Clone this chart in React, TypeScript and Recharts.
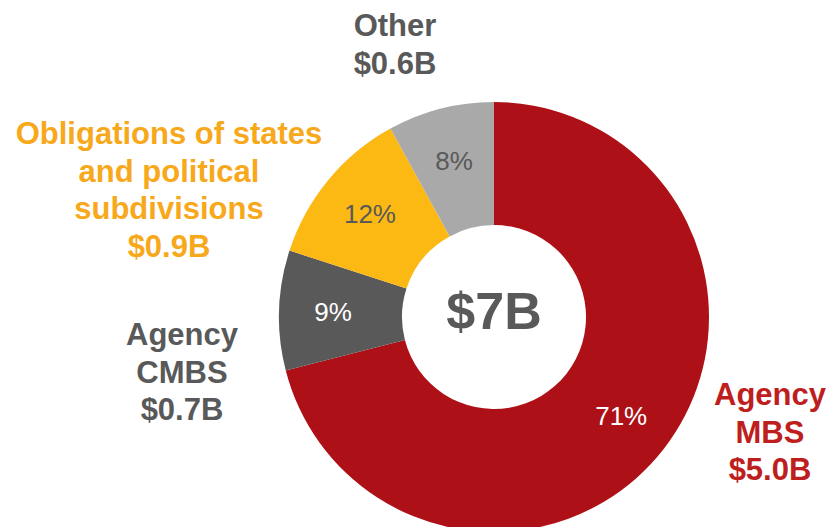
import { Pie, PieChart, Cell } from "recharts"

const categories = ["Agency MBS", "Agency CMBS", "Obligations of states and political subdivisions", "Other"]
const shares = [71, 9, 12, 8]
const amounts = ["$5.0B", "$0.7B", "$0.9B", "$0.6B"]
const nameLines = [["Agency", "MBS"], ["Agency", "CMBS"], ["Obligations of states", "and political", "subdivisions"], ["Other"]]
const total = "$7B"

const sliceColors = ["#AD1016", "#595959", "#FDB913", "#A9A9A9"]
const pctColors = ["#FFFFFF", "#FFFFFF", "#595959", "#595959"]
const nameColors = ["#BE1E1E", "#595959", "#F7A81B", "#595959"]
// where the outside captions sit (centre x, first baseline y)
const captionPos = [
  { x: 770, y: 405 },
  { x: 182, y: 345 },
  { x: 169, y: 144 },
  { x: 395, y: 36 },
]

const data = categories.map((name, i) => ({ name, value: shares[i] }))

const FONT = "'Liberation Sans', Arial, sans-serif"
const RAD = Math.PI / 180

function renderLabel(props: any) {
  const { cx, cy, midAngle, index } = props
  const r = 161
  const x = cx + r * Math.cos(-midAngle * RAD)
  const y = cy + r * Math.sin(-midAngle * RAD)
  const lines = [...nameLines[index], amounts[index]]
  const pos = captionPos[index]
  return (
    <g>
      <text x={x} y={y} textAnchor="middle" dominantBaseline="central" fill={pctColors[index]} fontSize={26} fontFamily={FONT}>
        {shares[index]}%
      </text>
      <text x={pos.x} y={pos.y} textAnchor="middle" fill={nameColors[index]} fontSize={31} fontWeight="bold" fontFamily={FONT}>
        {lines.map((l, k) => (
          <tspan key={k} x={pos.x} y={pos.y + k * 37.5}>
            {l}
          </tspan>
        ))}
      </text>
      {index === 0 && (
        <text x={cx} y={cy + 12} textAnchor="middle" fill="#595959" fontSize={52} fontWeight="bold" fontFamily={FONT}>
          {total}
        </text>
      )}
    </g>
  )
}

export default function App() {
  return (
    <div style={{ position: "absolute", left: 0, top: 0, background: "#fff" }}>
      <PieChart width={831} height={527} margin={{ top: 0, right: 0, bottom: 0, left: 0 }}>
        <Pie
          data={data}
          dataKey="value"
          cx={494}
          cy={317}
          innerRadius={92}
          outerRadius={215}
          startAngle={90}
          endAngle={-270}
          stroke="none"
          label={renderLabel}
          labelLine={false}
          isAnimationActive={false}
        >
          {data.map((d, i) => (
            <Cell key={d.name} fill={sliceColors[i]} />
          ))}
        </Pie>
      </PieChart>
    </div>
  )
}
